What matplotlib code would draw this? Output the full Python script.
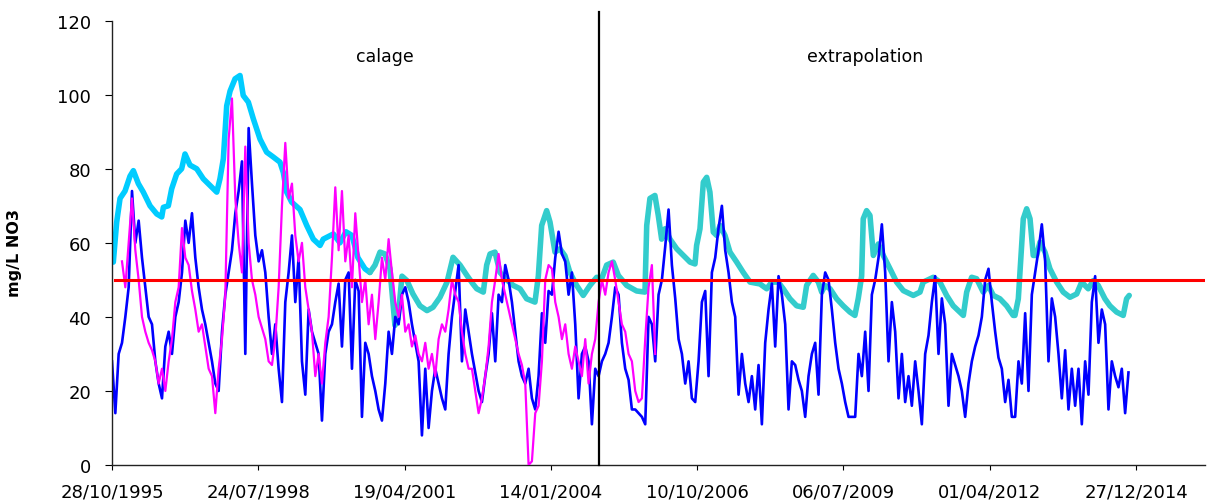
import matplotlib
matplotlib.use('Agg')
import matplotlib.pyplot as plt
import numpy as np

# x values are days since 28/10/1995
tick_days = [0, 1000, 2000, 3000, 4000, 5000, 6000, 7000]
tick_labels = ['28/10/1995', '24/07/1998', '19/04/2001', '14/01/2004',
               '10/10/2006', '06/07/2009', '01/04/2012', '27/12/2014']

# measured series (blue), one reading every step_days
step_days = 22.78
blue = [28, 14, 30, 33, 40, 48, 74, 60, 66, 56, 48, 40, 38, 28, 22, 18, 32, 36, 30, 40,
        44, 52, 66, 60, 68, 56, 48, 42, 38, 33, 28, 22, 20, 36, 46, 52, 58, 68, 74, 82,
        30, 91, 76, 62, 55, 58, 52, 40, 30, 38, 26, 17, 44, 52,
        62, 44, 56, 28, 19, 42, 36, 33, 30, 12, 30, 36, 38, 44, 49, 32, 50, 52, 26, 50,
        47, 13, 33, 30, 24, 20, 15, 12, 22, 36, 30, 40, 38, 46, 48, 44, 38, 33, 28, 8,
        26, 10, 20, 26, 22, 18, 15, 30, 40, 47, 54, 28, 42, 36,
        30, 25, 20, 17, 24, 30, 41, 28, 46, 44, 54, 50, 44, 36, 28, 24, 22, 26, 18, 15,
        24, 41, 33, 47, 46, 56, 63, 57, 55, 46, 52, 38, 18, 30, 32, 28, 11, 26, 24, 28,
        30, 33, 40, 48, 46, 33, 26, 23, 15, 15, 14, 13, 11, 40,
        38, 28, 46, 50, 59, 69, 54, 45, 34, 30, 22, 28, 18, 17, 28, 44, 47, 24, 52, 56,
        64, 70, 58, 52, 44, 40, 19, 30, 22, 17, 24, 15, 27, 11, 33, 42, 49, 32, 51, 46,
        38, 15, 28, 27, 23, 20, 13, 24, 30, 33, 19, 46, 52, 50,
        42, 33, 26, 22, 17, 13, 13, 13, 30, 24, 36, 20, 46, 50, 56, 65, 52, 28, 44, 36,
        18, 30, 17, 24, 16, 28, 20, 11, 30, 35, 44, 51, 30, 45, 38, 16, 30, 27, 24, 20,
        13, 22, 28, 32, 35, 40, 50, 53, 44, 36, 29, 26, 17, 23,
        13, 13, 28, 22, 41, 20, 46, 52, 58, 65, 55, 28, 45, 40, 30, 18, 31, 15, 26, 16,
        26, 11, 28, 19, 44, 51, 33, 42, 38, 15, 28, 24, 21, 26, 14, 25]

# calibration series (magenta), same step, starts 3 steps later
magenta_start = 3
magenta = [55, 48, 60, 72, 58, 50, 40, 36, 33, 31, 28, 22, 26, 20, 28, 34, 44, 48, 64, 56,
           54, 47, 42, 36, 38, 32, 26, 24, 14, 26, 34, 46, 88, 99, 72, 60, 52, 86, 60, 50,
           46, 40, 37, 34, 28, 27, 34, 48, 70, 87, 72,
           76, 62, 55, 60, 48, 42, 36, 24, 30, 22, 33, 40, 56, 75, 58, 74, 55, 62, 48, 68,
           56, 44, 50, 38, 46, 34, 44, 56, 50, 61, 52, 44, 40, 46, 36, 38, 32, 35, 30, 28,
           33, 26, 30, 24, 34, 38, 36, 42, 50, 46, 44, 36, 30, 26,
           26, 20, 14, 18, 24, 32, 44, 50, 57, 50, 46, 42, 38, 34, 30, 27, 22, 0, 1, 14,
           16, 28, 50, 54, 53, 44, 40, 34, 38, 30, 26, 32, 28, 24, 34, 22, 30, 34, 44, 50,
           46, 52, 55, 50, 44, 38, 36, 30, 28, 20, 17, 18, 34, 48,
           54, 30]

# smoothed series, first part (sky blue)
sky_days = [9, 32, 55, 89, 123, 146, 180, 214, 260, 306, 340, 351, 385, 408, 442, 476, 499,
            533, 579, 624, 670, 716, 738, 761, 784, 807, 841, 875, 897, 932, 966, 1012,
            1057, 1102, 1148, 1171, 1194, 1228, 1285, 1331, 1376, 1422, 1444, 1513, 1558,
            1599, 1640, 1681, 1729, 1763]
sky_vals = [54.8, 65.6, 72, 74, 78, 79.5, 76, 73.7, 70, 67.8, 67, 69.6, 70, 74.6, 78.6, 80,
            84, 81, 80, 77.3, 75.5, 73.7, 77.3, 82.7, 97, 101, 104.3, 105.2, 99.8, 98, 93.5,
            88, 84.5, 83.2, 81.8, 79, 73.7, 71, 69, 64.7, 61, 59.3, 61, 62.4, 60, 63, 62,
            56, 53, 52]

# smoothed series, second part (turquoise)
turq_days = [1763, 1798, 1832, 1866, 1900, 1934, 1955, 1982, 2016, 2057, 2105, 2153, 2194,
             2242, 2290, 2331, 2379, 2426, 2467, 2493, 2538, 2561, 2584, 2618, 2652, 2698,
             2743, 2789, 2834, 2891, 2914, 2937, 2971, 2994, 3028, 3062, 3096, 3130, 3176,
             3221, 3267, 3313, 3347, 3381, 3426, 3461, 3518, 3586, 3643, 3655, 3677, 3711,
             3734, 3757, 3780, 3814, 3860, 3905, 3951, 3985, 3996, 4019, 4042, 4065, 4087,
             4110, 4133, 4156, 4190, 4224, 4270, 4315, 4361, 4429, 4475, 4509, 4554, 4588,
             4634, 4680, 4725, 4748, 4793, 4828, 4851, 4873, 4908, 4953, 4998, 5044, 5078,
             5101, 5124, 5135, 5158, 5181, 5204, 5238, 5272, 5318, 5363, 5409, 5477, 5523,
             5545, 5614, 5659, 5705, 5750, 5819, 5842, 5876, 5910, 5955, 5990, 6024, 6069,
             6115, 6160, 6172, 6195, 6206, 6229, 6252, 6275, 6297, 6320, 6343, 6377, 6411,
             6457, 6502, 6548, 6594, 6628, 6673, 6707, 6741, 6787, 6821, 6867, 6912, 6935,
             6953]
turq_vals = [52, 54, 57.5, 57, 53, 37.7, 39.5, 51, 49.8, 46.2, 43, 41.7, 42.6,
             45.3, 49.4, 56.1, 54, 51.2, 48.9, 47.6, 46.7, 54, 57, 57.5, 52, 50,
             48.5, 47.6, 44.9, 44, 51, 64.7, 68.7, 65.6, 57.5, 58.4, 56.5, 52, 48.5,
             45.8, 48.5, 50.7, 50.3, 54, 54.8, 51.2, 48.5, 47, 46.7, 64.7, 72, 72.8,
             67.4, 61, 63.8, 61, 58.4, 56.6, 54.8, 54.3, 59.3, 63.8, 76.4, 77.7, 73.7,
             62.9, 62, 64.7, 62, 57.5, 54.8, 52, 49.4, 48.9, 47.6, 49.4, 49.4, 47.6,
             44.9, 43, 42.6, 48.5, 51.2, 49.4, 46.7, 48.5, 47.6, 44.9, 43, 41.3, 40.4,
             45, 51, 66.5, 68.7, 67.4, 56.6, 59.7, 56.6, 53, 49.4, 47.1, 45.8, 46.7,
             49.4, 50.7, 49.4, 45.8, 43, 40.4, 46.7, 50.7, 50.3, 46.7, 48.5, 45.8, 44.9,
             43, 40.4, 40.4, 44.9, 52, 66.5, 69.2, 66.5, 56.6, 56.6, 60.2, 57.5, 53,
             49.4, 46.7, 45.3, 46.2, 49.4, 47.6, 49.8, 48.5, 44.9, 43, 41.3, 40.4, 44.9,
             45.8]

threshold = 50
split_day = 3331          # calage / extrapolation boundary
x_end = 7471

blue_x = np.arange(len(blue)) * step_days
mag_x = (np.arange(len(magenta)) + magenta_start) * step_days

fig = plt.figure(figsize=(12.07, 5.02), dpi=100)
ax = fig.add_axes([112 / 1207, 36 / 502, 1093 / 1207, 444.3 / 502])

ax.plot(sky_days, sky_vals, color='#00CCFF', lw=4, solid_capstyle='round', zorder=1)
ax.plot(turq_days, turq_vals, color='#33CCCC', lw=4, solid_capstyle='round', zorder=1)
ax.plot(blue_x, blue, color='#0000FF', lw=1.9, zorder=2)
ax.plot(mag_x, magenta, color='#FF00FF', lw=1.6, zorder=3)
ax.axhline(threshold, xmin=0.003, color='#FF0000', lw=2.2, zorder=4)
ax.plot([split_day, split_day], [0, 122.4], color='black', lw=1.6, zorder=5, clip_on=False)

ax.text(1866, 110.5, 'calage', ha='center', va='center', fontsize=12.5)
ax.text(5147, 110.5, 'extrapolation', ha='center', va='center', fontsize=12.5)

ax.set_xlim(0, x_end)
ax.set_ylim(0, 120)
ax.set_xticks(tick_days)
ax.set_xticklabels(tick_labels)
ax.set_yticks(range(0, 121, 20))
ax.tick_params(axis='x', length=3.6, pad=9, labelsize=13, direction='out')
ax.tick_params(axis='y', length=5, pad=10, labelsize=13, direction='out')
ax.set_ylabel('mg/L NO3', fontsize=11.5, fontweight='bold')
ax.yaxis.set_label_coords(-0.082, 0.48)

for s in ['top', 'right']:
    ax.spines[s].set_visible(False)
for s in ['left', 'bottom']:
    ax.spines[s].set_linewidth(1.0)
    ax.spines[s].set_color('#222222')

fig.savefig('out.png', dpi=100)
